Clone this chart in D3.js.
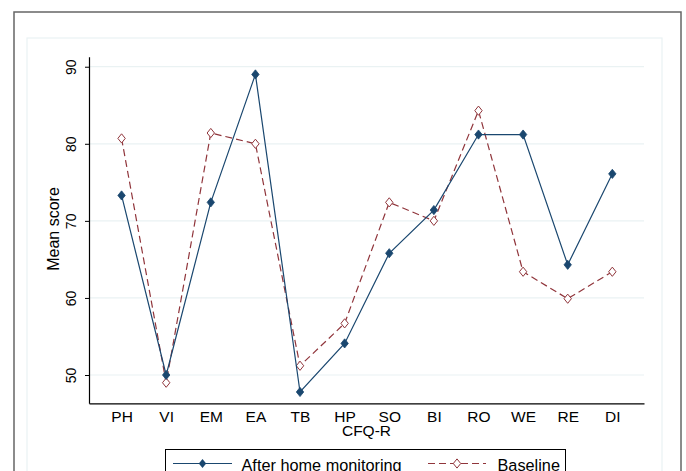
<!DOCTYPE html>
<html>
<head>
<meta charset="utf-8">
<script src="https://cdn.jsdelivr.net/npm/d3@7"></script>
<style>
  body { margin: 0; background: #fff; }
  svg { display: block; font-family: "Liberation Sans", Arial, sans-serif; }
</style>
</head>
<body>
<div id="chart"></div>
<script>
// CFQ-R domains and mean scores
var categories = ["PH", "VI", "EM", "EA", "TB", "HP", "SO", "BI", "RO", "WE", "RE", "DI"];
var afterValues = [73.3, 50.0, 72.4, 89.0, 47.8, 54.1, 65.8, 71.4, 81.2, 81.2, 64.3, 76.1];
var baselineValues = [80.7, 49.0, 81.4, 80.0, 51.2, 56.7, 72.4, 70.0, 84.3, 63.4, 59.9, 63.4];
var yTicks = [50, 60, 70, 80, 90];
var seriesNames = ["After home monitoring", "Baseline"];

var width = 686;
var height = 471;
var navy = "#1a476f";
var maroon = "#90353b";
var gridColor = "#eaf2f3";

var svg = d3.select("#chart").append("svg")
  .attr("width", width)
  .attr("height", height);

svg.append("rect")
  .attr("width", width)
  .attr("height", height)
  .attr("fill", "#fff");

// outer border and inner plot region frame
svg.append("rect")
  .attr("x", 14).attr("y", 12)
  .attr("width", 667).attr("height", 480)
  .attr("fill", "none")
  .attr("stroke", "#666")
  .attr("stroke-width", 1.5);

svg.append("rect")
  .attr("x", 27).attr("y", 38)
  .attr("width", 635).attr("height", 460)
  .attr("fill", "none")
  .attr("stroke", gridColor)
  .attr("stroke-width", 1.2);

var xScale = d3.scaleLinear([0.27, 12.71], [89, 644]);
var yScale = d3.scaleLinear([46.33, 91.3], [403.3, 56.7]);

// gridlines
svg.append("g")
  .selectAll("line")
  .data(yTicks)
  .join("line")
  .attr("x1", 89)
  .attr("x2", 644)
  .attr("y1", d => yScale(d))
  .attr("y2", d => yScale(d))
  .attr("stroke", gridColor)
  .attr("stroke-width", 1.2);

// y axis
var yAxis = d3.axisLeft(yScale)
  .tickValues(yTicks)
  .tickSize(4)
  .tickSizeOuter(0);

var yg = svg.append("g")
  .attr("transform", "translate(89, 0)")
  .call(yAxis);
yg.select(".domain").attr("stroke", "#000").attr("stroke-width", 1.2);
yg.selectAll(".tick line").attr("stroke", "#000");
yg.selectAll(".tick text")
  .attr("x", null).attr("dy", null)
  .attr("transform", "translate(-18, 0) rotate(-90)")
  .attr("text-anchor", "middle")
  .attr("dominant-baseline", "central")
  .attr("font-size", 14)
  .attr("font-family", "Liberation Sans, Arial, sans-serif")
  .attr("fill", "#000");

// x axis
var xAxis = d3.axisBottom(xScale)
  .tickValues(d3.range(1, categories.length + 1))
  .tickFormat(function (d) { return categories[d - 1]; })
  .tickSize(0)
  .tickSizeOuter(0);

var xg = svg.append("g")
  .attr("transform", "translate(0, 403.3)")
  .call(xAxis);
xg.select(".domain").attr("stroke", "#000").attr("stroke-width", 1.2);
xg.selectAll(".tick text")
  .attr("y", 12.7)
  .attr("dy", "0.36em")
  .attr("font-size", 15.5)
  .attr("font-family", "Liberation Sans, Arial, sans-serif")
  .attr("fill", "#000");

// axis titles
svg.append("text")
  .attr("x", 366.5)
  .attr("y", 430)
  .attr("dy", "0.36em")
  .attr("text-anchor", "middle")
  .attr("font-size", 15.5)
  .text("CFQ-R");

svg.append("text")
  .attr("transform", "translate(53, 229) rotate(-90)")
  .attr("text-anchor", "middle")
  .attr("dominant-baseline", "central")
  .attr("font-size", 16)
  .text("Mean score");

var line = d3.line()
  .x(function (d, i) { return xScale(i + 1); })
  .y(function (d) { return yScale(d); });

var diamond = "M0,-4.6L3.7,0L0,4.6L-3.7,0Z";

// baseline series (dashed, hollow diamonds)
svg.append("path")
  .datum(baselineValues)
  .attr("d", line)
  .attr("fill", "none")
  .attr("stroke", maroon)
  .attr("stroke-width", 1.2)
  .attr("stroke-dasharray", "7,4");

svg.append("g")
  .selectAll("path")
  .data(baselineValues)
  .join("path")
  .attr("transform", function (d, i) {
    return "translate(" + xScale(i + 1) + "," + yScale(d) + ")";
  })
  .attr("d", diamond)
  .attr("fill", "#fff")
  .attr("stroke", maroon)
  .attr("stroke-width", 1);

// after home monitoring (solid, filled diamonds)
svg.append("path")
  .datum(afterValues)
  .attr("d", line)
  .attr("fill", "none")
  .attr("stroke", navy)
  .attr("stroke-width", 1.2);

svg.append("g")
  .selectAll("path")
  .data(afterValues)
  .join("path")
  .attr("transform", function (d, i) {
    return "translate(" + xScale(i + 1) + "," + yScale(d) + ")";
  })
  .attr("d", diamond)
  .attr("fill", navy)
  .attr("stroke", navy)
  .attr("stroke-width", 0.8);

// legend
var legend = svg.append("g");
legend.append("rect")
  .attr("x", 165.5).attr("y", 449.5)
  .attr("width", 400).attr("height", 40)
  .attr("fill", "#fff")
  .attr("stroke", "#000")
  .attr("stroke-width", 1);

var ly = 463.5;
legend.append("line")
  .attr("x1", 173).attr("x2", 232)
  .attr("y1", ly).attr("y2", ly)
  .attr("stroke", navy).attr("stroke-width", 1.2);
legend.append("path")
  .attr("transform", "translate(202.5," + ly + ")")
  .attr("d", diamond)
  .attr("fill", navy);
legend.append("text")
  .attr("x", 241.5).attr("y", 470.5)
  .attr("font-size", 16.3)
  .text(seriesNames[0]);

legend.append("line")
  .attr("x1", 428).attr("x2", 486)
  .attr("y1", ly).attr("y2", ly)
  .attr("stroke", maroon).attr("stroke-width", 1.2)
  .attr("stroke-dasharray", "7,4");
legend.append("path")
  .attr("transform", "translate(457," + ly + ")")
  .attr("d", diamond)
  .attr("fill", "#fff")
  .attr("stroke", maroon);
legend.append("text")
  .attr("x", 497.5).attr("y", 470.5)
  .attr("font-size", 16.3)
  .text(seriesNames[1]);
</script>
</body>
</html>
